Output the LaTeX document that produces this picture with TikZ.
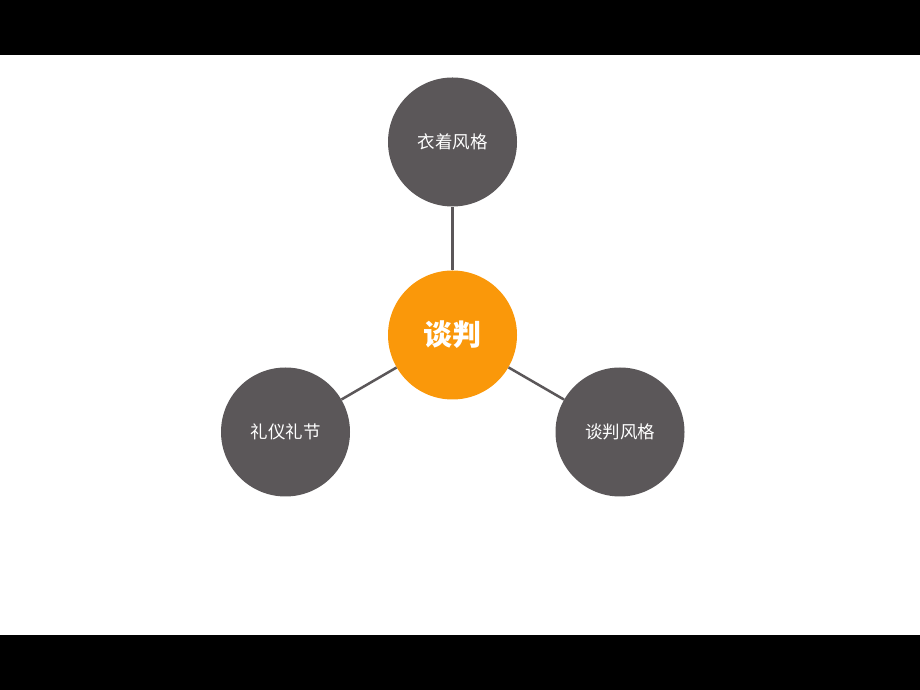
\documentclass[tikz,border=0pt]{standalone}
\usepackage{fontspec}
\newfontfamily\cjk{Noto Sans CJK SC}
\usetikzlibrary{positioning}
\definecolor{topicgray}{RGB}{91,87,89}
\definecolor{coreorange}{RGB}{250,152,10}

\begin{document}
\begin{tikzpicture}[x=1pt,y=1pt,
    topic/.style={circle,fill=topicgray,minimum size=129pt,inner sep=0pt,text=white,font=\cjk\fontsize{17.5}{20}\selectfont},
    core/.style={circle,fill=coreorange,minimum size=129pt,inner sep=0pt,text=white,font=\cjk\bfseries\fontsize{29}{33}\selectfont},
    link/.style={draw=topicgray,line width=2.5pt}]
    \useasboundingbox (0,0) rectangle (920,690);
    \fill[black] (0,690) rectangle (920,635);
    \fill[black] (0,0) rectangle (920,55);
    \node[core] (talk) at (452.5,355) {谈判};
    \node[topic] (dress) at (452.5,548) {衣着风格};
    \node[topic] (manner) at (285.5,258) {礼仪礼节};
    \node[topic] (style) at (620,258) {谈判风格};
    \foreach \t in {dress,manner,style}{
      \draw[link] (talk) -- (\t);
    }
  \end{tikzpicture}
\end{document}
